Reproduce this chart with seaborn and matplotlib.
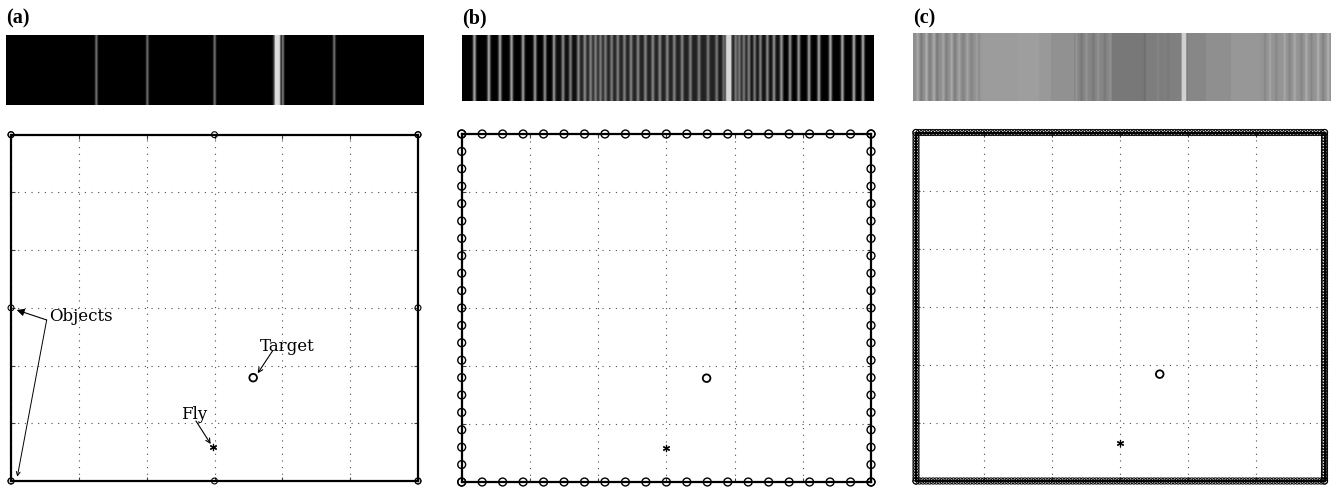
import numpy as np
import pandas as pd
import matplotlib
matplotlib.use("Agg")
import matplotlib.pyplot as plt
import seaborn as sns

sns.set_theme(style="white")
plt.rcParams["font.family"] = ["DejaVu Serif", "DejaVu Sans"]

# ---------------- data ----------------
panel_labels = ["(a)", "(b)", "(c)"]
objects_per_side = [3, 21, 121]          # objects along each wall
arena_w, arena_h = 6, 6
target_x = [3.57, 3.59, 3.58]
target_y = [1.79, 1.79, 1.84]
fly_x = [2.98, 3.00, 3.00]
fly_y = [0.59, 0.58, 0.66]

# visual strip (a): object lines (fraction of strip width, brightness)
strip_a_pos = [0.215, 0.337, 0.498, 0.661, 0.784]
strip_a_val = [0.42, 0.40, 0.42, 0.45, 0.42]

# visual strip (b)
strip_b_pos = [0.029, 0.064, 0.091, 0.119, 0.147, 0.176, 0.200, 0.222, 0.244,
               0.262, 0.281, 0.297, 0.311, 0.323, 0.335, 0.347, 0.362, 0.377,
               0.393, 0.409, 0.426, 0.444, 0.462, 0.479, 0.497, 0.514, 0.533,
               0.553, 0.574, 0.596, 0.617, 0.634, 0.663, 0.672, 0.683, 0.695,
               0.709, 0.723, 0.740, 0.756, 0.774, 0.795, 0.816, 0.841, 0.865,
               0.893, 0.922, 0.950, 0.972]
strip_b_val = [0.62, 0.62, 0.60, 0.60, 0.58, 0.56, 0.52, 0.50, 0.46,
               0.42, 0.40, 0.38, 0.36, 0.35, 0.34, 0.34, 0.34, 0.35,
               0.35, 0.36, 0.36, 0.37, 0.37, 0.37, 0.37, 0.36, 0.36,
               0.35, 0.34, 0.33, 0.32, 0.32, 0.36, 0.35, 0.35, 0.37,
               0.39, 0.41, 0.44, 0.47, 0.50, 0.53, 0.56, 0.58, 0.60,
               0.62, 0.62, 0.62, 0.62]
strip_b_bg_edges = [0.0, 0.22, 0.28, 0.62, 0.70, 0.78, 1.0]
strip_b_bg_val = [0.0, 0.05, 0.13, 0.10, 0.06, 0.0]

# visual strip (c): background segments and fine stripes
strip_c_bg_edges = [0.0, 0.167, 0.25, 0.30, 0.33, 0.385, 0.475, 0.55, 0.60,
                    0.657, 0.70, 0.76, 0.83, 1.0]
strip_c_bg_val = [0.56, 0.61, 0.62, 0.60, 0.57, 0.52, 0.47, 0.49, 0.50,
                  0.53, 0.56, 0.59, 0.58]
strip_c_pos = [0.010, 0.019, 0.031, 0.039, 0.049, 0.057, 0.071, 0.079, 0.091,
               0.099, 0.109, 0.119, 0.129, 0.139, 0.151, 0.163,
               0.390, 0.402, 0.414, 0.430, 0.442, 0.458, 0.470, 0.553, 0.585,
               0.609, 0.841, 0.853, 0.868, 0.888, 0.900, 0.912, 0.928, 0.940,
               0.952, 0.968, 0.980, 0.992]
strip_c_val = [0.10, -0.08, 0.12, -0.06, 0.10, -0.08, 0.08, -0.06, 0.10,
               -0.06, 0.08, -0.05, 0.08, -0.04, 0.06, 0.05,
               0.06, -0.05, 0.06, -0.05, 0.05, -0.05, 0.04, -0.06, 0.03,
               -0.03, -0.05, 0.06, -0.05, 0.07, -0.06, 0.08, -0.06, 0.09,
               -0.06, 0.10, -0.07, 0.10]

target_line_pos = [0.648, 0.646, 0.647]
target_line_val = [0.86, 0.84, 0.82]

# ---------------- layout (figure fractions) ----------------
W, H = 1333, 487
fig = plt.figure(figsize=(W / 100, H / 100), dpi=100)

strip_px = [(6, 424, 35, 105), (462, 874, 35, 101), (913, 1331, 33, 101)]
arena_px = [(11, 418, 134.7, 481), (461.7, 871, 134, 482), (916, 1324.5, 132.5, 481)]
label_px = [6, 462, 913]


def frac_box(x0, x1, y0, y1):
    return [x0 / W, 1 - y1 / H, (x1 - x0) / W, (y1 - y0) / H]


def gauss_lines(n, pos, val, sigma):
    xs = np.arange(n)
    out = np.zeros(n)
    for p, v in zip(pos, val):
        out += v * np.exp(-0.5 * ((xs - p * n) / sigma) ** 2)
    return out


def segments(n, edges, vals):
    out = np.zeros(n)
    idx = np.arange(n) / n
    for e0, e1, v in zip(edges[:-1], edges[1:], vals):
        out[(idx >= e0) & (idx < e1)] = v
    return out


def strip_profile(i, n):
    if i == 0:
        prof = gauss_lines(n, strip_a_pos, strip_a_val, 1.0)
    elif i == 1:
        prof = segments(n, strip_b_bg_edges, strip_b_bg_val) + \
            gauss_lines(n, strip_b_pos, strip_b_val, 1.2)
    else:
        prof = segments(n, strip_c_bg_edges, strip_c_bg_val) + \
            gauss_lines(n, strip_c_pos, strip_c_val, 0.9)
    tgt = gauss_lines(n, [target_line_pos[i]], [1.0], 2.0)
    prof = np.maximum(prof, target_line_val[i] * np.clip(tgt * 1.6, 0, 1))
    return np.clip(prof, 0, 1)


for i in range(3):
    # ---- visual strip ----
    x0, x1, y0, y1 = strip_px[i]
    n = int(x1 - x0)
    axs = fig.add_axes(frac_box(x0, x1, y0, y1))
    sns.heatmap(pd.DataFrame(strip_profile(i, n)[None, :]), ax=axs, cmap="gray",
                vmin=0, vmax=1, cbar=False, xticklabels=False, yticklabels=False)
    axs.set_xlabel("")
    axs.set_ylabel("")

    fig.text(label_px[i] / W, 1 - 8 / H, panel_labels[i], ha="left", va="top",
             fontsize=14.5, fontweight="bold", color="black",
             family=["Liberation Serif"])

    # ---- arena ----
    ax = fig.add_axes(frac_box(*arena_px[i]))
    k = objects_per_side[i]
    xs_side = np.linspace(0, arena_w, k)
    ys_side = np.linspace(0, arena_h, k)
    obj = pd.DataFrame({
        "x": np.concatenate([xs_side, xs_side, np.zeros(k), np.full(k, arena_w)]),
        "y": np.concatenate([np.zeros(k), np.full(k, arena_h), ys_side, ys_side]),
    })
    size = [18, 32, 20][i]
    lw = [0.8, 1.0, 0.7][i]
    ax.set_xlim(0, arena_w)
    ax.set_ylim(0, arena_h)
    ax.set_xticks(range(arena_w + 1))
    ax.set_yticks(range(arena_h + 1))
    ax.grid(True, linestyle=(0, (1, 5)), color="0.3", linewidth=0.8)
    ax.tick_params(direction="in", length=3, width=0.8, labelbottom=False,
                   labelleft=False, left=True, bottom=True, right=True, top=True,
                   colors="0.25")
    for sp in ax.spines.values():
        sp.set_color("black")
        sp.set_linewidth(1.6)
        sp.set_zorder(3)

    sns.scatterplot(data=obj, x="x", y="y", ax=ax, marker="o", s=size,
                    facecolor="none", edgecolor="black", linewidth=lw,
                    legend=False, zorder=4, clip_on=False)
    sns.scatterplot(x=[target_x[i]], y=[target_y[i]], ax=ax, marker="o", s=30,
                    facecolor="none", edgecolor="black", linewidth=1.3,
                    legend=False, zorder=5)
    sns.scatterplot(x=[fly_x[i]], y=[fly_y[i]], ax=ax, marker=(6, 2, 0), s=20,
                    color="black", edgecolor="black", linewidth=0.9,
                    legend=False, zorder=5)
    ax.set_xlabel("")
    ax.set_ylabel("")
    for c in ax.collections:
        c.set_clip_on(False)

    if i == 0:
        tkw = dict(fontsize=12, va="baseline", ha="left", color="black")
        ax.text(0.56, 2.77, "Objects", **tkw)
        ax.text(3.67, 2.25, "Target", **tkw)
        ax.text(2.506, 1.074, "Fly", **tkw)
        ax.annotate("", xy=(0.084, 2.963), xytext=(0.526, 2.79),
                    arrowprops=dict(arrowstyle="-|>", color="black", lw=0.8,
                                    mutation_scale=11, shrinkA=0, shrinkB=0))
        ax.annotate("", xy=(0.093, 0.075), xytext=(0.526, 2.79),
                    arrowprops=dict(arrowstyle="->", color="black", lw=0.7,
                                    mutation_scale=7, shrinkA=0, shrinkB=0))
        ax.annotate("", xy=(3.637, 1.866), xytext=(3.858, 2.258),
                    arrowprops=dict(arrowstyle="->", color="black", lw=0.8,
                                    mutation_scale=8, shrinkA=0, shrinkB=0))
        ax.annotate("", xy=(2.944, 0.641), xytext=(2.727, 1.04),
                    arrowprops=dict(arrowstyle="->", color="black", lw=0.8,
                                    mutation_scale=8, shrinkA=0, shrinkB=0))

fig.savefig("out.png", dpi=100, facecolor="white")
